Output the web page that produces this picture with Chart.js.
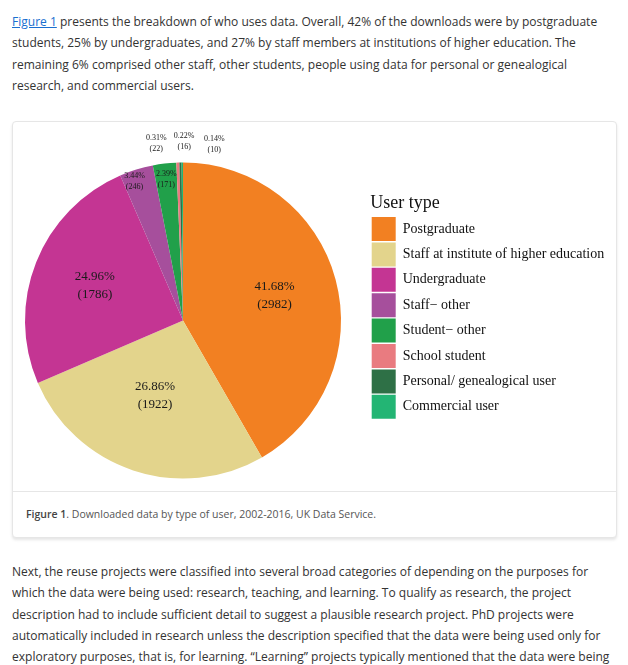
<!DOCTYPE html>
<html><head><meta charset="utf-8">
<script src="https://cdn.jsdelivr.net/npm/chart.js@4.4.0/dist/chart.umd.min.js"></script>
<style>
html,body{margin:0;padding:0;background:#fff;overflow:hidden;width:628px;height:665px;}
body{font-family:"Open Sans",sans-serif;color:#333;position:relative;}
.p{position:absolute;left:12px;font-size:13px;line-height:21.3px;white-space:nowrap;transform:scaleX(0.925);transform-origin:0 0;}
.fig{position:absolute;left:12px;top:121px;width:605px;height:417px;border:1px solid #e6e6e6;border-radius:4px;box-shadow:0 2px 3px rgba(0,0,0,0.10);box-sizing:border-box;background:#fff;}
.sep{position:absolute;left:0;right:0;top:369px;border-top:1px solid #e6e6e6;}
.cap{position:absolute;left:13px;top:384px;font-size:11px;line-height:15px;color:#555;white-space:nowrap;transform:scaleX(0.954);transform-origin:0 0;}
.cap b{font-weight:600;color:#444;}
#wrap{position:absolute;left:-20px;top:122px;width:660px;height:368px;}
a{color:#1a6fd0;text-decoration:underline;}
</style>
</head><body>
<div class="p" style="top:11px;"><a>Figure 1</a> presents the breakdown of who uses data. Overall, 42% of the downloads were by postgraduate<br>students, 25% by undergraduates, and 27% by staff members at institutions of higher education. The<br>remaining 6% comprised other staff, other students, people using data for personal or genealogical<br>research, and commercial users.</div>
<div class="fig"><div class="sep"></div><div class="cap"><b>Figure 1</b>. Downloaded data by type of user, 2002-2016, UK Data Service.</div></div>
<div id="wrap"><canvas id="c"></canvas></div>
<div class="p" style="top:561px;">Next, the reuse projects were classified into several broad categories of depending on the purposes for<br>which the data were being used: research, teaching, and learning. To qualify as research, the project<br>description had to include sufficient detail to suggest a plausible research project. PhD projects were<br>automatically included in research unless the description specified that the data were being used only for<br>exploratory purposes, that is, for learning. “Learning” projects typically mentioned that the data were being</div>
<script>
const categories = ["Postgraduate","Staff at institute of higher education","Undergraduate","Staff\u2212 other","Student\u2212 other","School student","Personal/ genealogical user","Commercial user"];
const counts = [2982,1922,1786,246,171,22,16,10];
const percents = [41.68,26.86,24.96,3.44,2.39,0.31,0.22,0.14];
const colors = ["#F28022","#E3D48C","#C43593","#A64F9C","#21A04A","#E97B80","#2E7046","#23B574"];

// label placement style per slice (radius fraction, nudges, font size, line gap)
const labelR = [0.6,0.5,0.6,0.93,0.9,1.12,1.12,1.12];
const labelDx = [0,-3,0,-5,0,-21,4,32];
const labelDy = [0,0,0,1,0,0,-2,0.5];
const labelSize = [13,13,13,8,8,8,8,8];
const labelGap = [18,18,18,11,11,11,11,11];

const sliceLabels = {
  id:'sliceLabels',
  afterDatasetsDraw(chart){
    const ctx = chart.ctx;
    const meta = chart.getDatasetMeta(0);
    ctx.save();
    ctx.textAlign='center';
    ctx.textBaseline='middle';
    ctx.fillStyle='#1a1a1a';
    meta.data.forEach((arc,i)=>{
      const p = arc.getProps(['x','y','startAngle','endAngle','outerRadius'],true);
      const mid = (p.startAngle+p.endAngle)/2;
      const r = p.outerRadius*labelR[i];
      const x = p.x + Math.cos(mid)*r + labelDx[i];
      const y = p.y + Math.sin(mid)*r + labelDy[i];
      ctx.font = labelSize[i]+'px "Liberation Serif"';
      ctx.fillText(percents[i].toFixed(2)+'%', x, y-labelGap[i]/2);
      ctx.fillText('('+counts[i]+')', x, y+labelGap[i]/2);
    });
    ctx.restore();
  }
};

// legend natural width so the legend lands at the wanted spot
const LEG_FONT = 14, LEG_BOX = 24, LEG_PAD = 1.4;
const mctx = document.createElement('canvas').getContext('2d');
mctx.font = LEG_FONT + 'px "Liberation Serif"';
let maxText = 0;
categories.forEach(t=>{ maxText = Math.max(maxText, mctx.measureText(t).width); });
const legendW = LEG_PAD + LEG_BOX + LEG_FONT/2 + maxText + 10;
const CANVAS_W = 660, LEGEND_LEFT = 390.3;
const padRight = CANVAS_W - LEGEND_LEFT - legendW;

new Chart(document.getElementById('c'),{
  type:'pie',
  data:{labels:categories,datasets:[{data:counts,backgroundColor:colors,borderWidth:0,hoverOffset:0,radius:158}]},
  options:{
    responsive:true,maintainAspectRatio:false,animation:false,events:[],
    layout:{padding:{left:15.7,right:padRight,top:50,bottom:21}},
    plugins:{
      tooltip:{enabled:false},
      legend:{
        position:'right',align:'start',
        title:{display:true,text:'User type',color:'#111',position:'start',
          font:{family:'"Liberation Serif"',size:18,lineHeight:1.2},padding:{top:22,bottom:0}},
        labels:{boxWidth:LEG_BOX,boxHeight:LEG_BOX,padding:LEG_PAD,color:'#111',
          font:{family:'"Liberation Serif"',size:LEG_FONT}}
      }
    }
  },
  plugins:[sliceLabels]
});
</script>
</body></html>
